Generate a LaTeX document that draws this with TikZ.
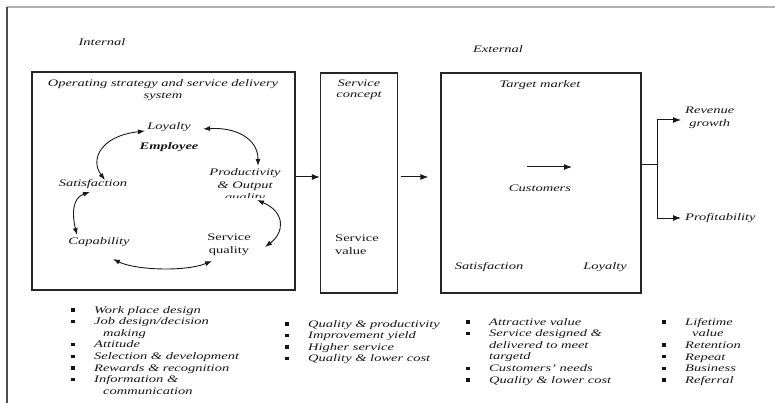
\documentclass[tikz,border=0pt]{standalone}
\usepackage{fontspec}
\setmainfont{Liberation Serif}[FakeStretch=1.45]
\usetikzlibrary{arrows.meta,calc}
\newcommand\bul{\makebox[23pt][l]{\rule[1.6pt]{3.4pt}{3.4pt}}}
\begin{document}
\begin{tikzpicture}[x=1pt,y=-1pt,
  every node/.style={inner sep=0pt, text=black!92},
  lbl/.style={font=\fontsize{10}{12.5}\selectfont\itshape, align=center},
  upr/.style={font=\fontsize{10}{13}\selectfont, align=center},
  lst/.style={font=\fontsize{10}{11.6}\selectfont\itshape, align=left, anchor=north west},
  frame/.style={draw=black!85, line width=1.2pt},
  arr/.style={-{Latex[length=8pt,width=6pt]}, line width=1pt, draw=black!90},
  dbl/.style={{Latex[length=7pt,width=5pt]}-{Latex[length=7pt,width=5pt]}, line width=0.9pt, draw=black!90}]
\useasboundingbox (0,0) rectangle (775,403);

% page rule
\draw[gray!60, line width=1.4pt] (775,7) -- (7,7);
\draw[black!70, line width=1.1pt] (7,7) -- (7,403);

\node[lbl] (internal) at (102,42) {Internal};
\node[lbl] (external) at (498,49) {External};

% operating strategy box
\node[frame, minimum width=263pt, minimum height=218pt] (ops) at (163.5,181) {};
\node[lbl] (opstitle) at (163,90) {Operating strategy and service delivery\\system};
\node[lbl] (loy) at (169,127) {Loyalty};
\node[lbl, font=\fontsize{10}{12}\selectfont\bfseries\itshape] (emp) at (169,147) {Employee};
\begin{scope}
  \clip (200,150) rectangle (295,198);
  \node[lbl] (prod) at (245,186) {Productivity\\\& Output\\quality};
\end{scope}
\node[lbl] (sat) at (93,184) {Satisfaction};
\node[lbl] (cap) at (99,242) {Capability};
\node[upr] (sq) at (229,245) {Service\\quality};

% employee cycle
\draw[dbl] ($(loy)+(34,2)$) .. controls +(32,-2) and +(0,-28) .. ($(prod)+(13,-20)$);
\draw[dbl] ($(loy)+(-24,4)$) .. controls +(-45,5) and +(-15,-20) .. ($(sat)+(12,-4)$);
\draw[dbl] ($(sat)+(-3,8)$) .. controls +(-18,6) and +(-5,-20) .. ($(cap)+(-22,-7)$);
\draw[dbl] ($(cap)+(14,17)$) .. controls +(22,11) and +(-27,11) .. ($(sq)+(-17,16)$);
\draw[dbl] ($(prod)+(12,14)$) .. controls +(28,12) and +(20,-15) .. ($(sq)+(36,2)$);

% service concept box
\node[frame, minimum width=77pt, minimum height=220pt] (concept) at (359,183) {};
\node[lbl, font=\fontsize{10}{11.5}\selectfont\itshape] (sconc) at (359,90) {Service\\concept};
\node[upr, align=left, anchor=west] (sval) at (335,245) {Service\\value};

% target market box
\node[frame, minimum width=200pt, minimum height=220pt] (market) at (541,183) {};
\node[lbl] (tmkt) at (540,85) {Target market};
\node[lbl] (cust) at (540,188) {Customers};
\node[lbl] (csat) at (489,267) {Satisfaction};
\node[lbl] (cloy) at (605,267) {Loyalty};
\draw[arr] ($(cust)+(-13,-21)$) -- ($(cust)+(32,-21)$);

% flow between boxes
\draw[arr] ($(ops.east)+(0,-4)$) -- ($(concept.west)+(0,-6)$);
\draw[arr] ($(concept.east)+(3,-6)$) -- ($(market.west)+(-12,-6)$);

% outcomes
\node[lbl, anchor=west] (rev) at (685,118) {Revenue\\growth};
\node[lbl, anchor=west] (prof) at (685,218) {Profitability};
\coordinate (br) at ($(market.east)+(16,-18)$);
\draw[line width=1pt, black!90] ($(market.east)+(0,-18)$) -- (br);
\draw[arr] (br) |- ($(rev.west)+(-4,2)$);
\draw[arr] (br) |- ($(prof.west)+(-4,0)$);

% lists
\node[lst] (l1) at (71,306) {\bul Work place design\\
\bul Job design/decision\\
\hspace*{32pt}making\\
\bul Attitude\\
\bul Selection \& development\\
\bul Rewards \& recognition\\
\bul Information \&\\
\hspace*{32pt}communication};

\node[lst] (l2) at (285,320) {\bul Quality \& productivity\\
\bul Improvement yield\\
\bul Higher service\\
\bul Quality \& lower cost};

\node[lst] (l3) at (466,318) {\bul Attractive value\\
\bul Service designed \&\\
\hspace*{23pt}delivered to meet\\
\hspace*{23pt}targetd\\
\bul Customers' needs\\
\bul Quality \& lower cost};

\node[lst] (l4) at (662,318) {\bul Lifetime\\
\hspace*{30pt}value\\
\bul Retention\\
\bul Repeat\\
\bul Business\\
\bul Referral};
\end{tikzpicture}
\end{document}
